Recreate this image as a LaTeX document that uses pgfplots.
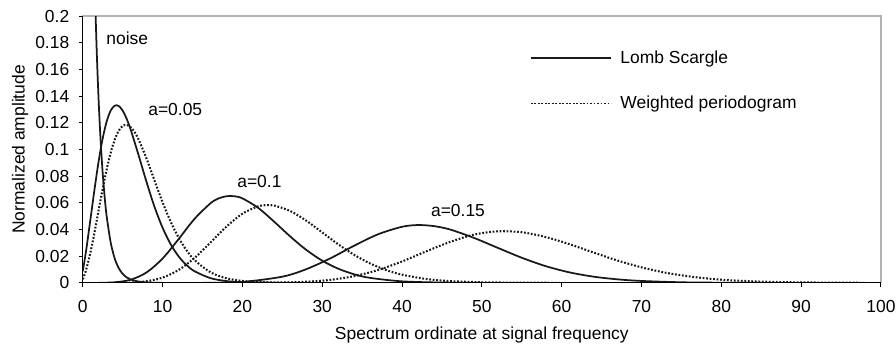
\documentclass[border=0pt]{standalone}
\usepackage{pgfplots}
\pgfplotsset{compat=1.18}
\usepackage{fontspec}
\setmainfont{Liberation Sans}
\newcommand{\chartfont}{\fontsize{11}{13}\selectfont}

\begin{document}
\begin{tikzpicture}[font=\chartfont]
\begin{axis}[
  name=ax,
  width=503.5pt, height=168.3pt, scale only axis,
  xmin=0, xmax=100, ymin=0, ymax=0.2,
  xtick={0,10,20,30,40,50,60,70,80,90,100},
  ytick={0,0.02,0.04,0.06,0.08,0.1,0.12,0.14,0.16,0.18,0.2},
  scaled y ticks=false,
  /pgf/number format/assume math mode=true,
  tick label style={font=\chartfont},
  label style={font=\chartfont},
  yticklabel style={/pgf/number format/fixed, /pgf/number format/precision=2, xshift=-2.5pt},
  xticklabel style={yshift=-5pt},
  tick pos=left, tick align=outside, major tick length=2.5pt,
  axis line style={gray!60, line width=0.8pt},
  tick style={black, line width=0.6pt},
  xlabel={Spectrum ordinate at signal frequency},
  ylabel={Normalized amplitude},
  xlabel style={at={(axis description cs:0.5,-0.196)}, anchor=center},
  ylabel style={at={(axis description cs:-0.0786,0.5)}, anchor=center},
  ls/.style={black!90, line width=1.1pt, smooth, no markers},
  wp/.style={ls, line width=1.3pt, dash pattern=on 1.1pt off 1.1pt},
  legend style={draw=none, fill=none, at={(axis cs:56.03,0.1516)}, anchor=west,
    inner sep=0pt, row sep=15pt, font=\chartfont},
  /tikz/every odd column/.append style={column sep=3.5pt},
  legend image code/.code={\draw[#1, line width=0.8pt] (0pt,0pt) -- (50.6pt,0pt);},
  legend cell align=left,
]
% Lomb Scargle, a=0.05
\addplot[ls] coordinates {
  (0,0.0087) (0.25,0.0175) (0.5,0.0274) (1,0.0492) (1.5,0.0712) (2,0.0914)
  (2.5,0.1083) (3,0.1210) (3.5,0.1291) (4,0.1328) (4.5,0.1326) (5,0.1291)
  (5.5,0.1230) (6,0.1149) (7,0.0956) (8,0.0754) (9,0.0568) (10,0.0413)
  (11,0.0291) (12,0.0199) (13,0.0133) (14,0.0087) (16,0.0035) (18,0.0013)
  (20,0.0005) (25,0.0000)
};
\addlegendentry{Lomb Scargle}
% Weighted periodogram, a=0.05
\addplot[wp] coordinates {
  (0,0.0027) (0.25,0.0065) (0.5,0.0114) (1,0.0237) (1.5,0.0386) (2,0.0547)
  (2.5,0.0705) (3,0.0851) (3.5,0.0975) (4,0.1072) (4.5,0.1139) (5,0.1176)
  (5.5,0.1184) (6,0.1167) (6.5,0.1129) (7,0.1074) (8,0.0930) (9,0.0765)
  (10,0.0604) (11,0.0460) (12,0.0340) (13,0.0244) (14,0.0171) (16,0.0079)
  (18,0.0034) (20,0.0014) (22,0.0005) (25,0.0001) (30,0)
};
\addlegendentry{Weighted periodogram}
% noise
\addplot[ls, forget plot] coordinates {
  (1.5,0.2231) (1.75,0.1738) (2,0.1353) (2.25,0.1054) (2.5,0.0821)
  (2.75,0.0639) (3,0.0498) (3.5,0.0302) (4,0.0183) (4.5,0.0111) (5,0.0067)
  (5.5,0.0041) (6,0.0025) (7,0.0009) (8,0.0003) (9,0.0001) (10,0)
};
% Lomb Scargle, a=0.1
\addplot[ls, forget plot] coordinates {
  (2,0) (4,0.0004) (6,0.0023) (8,0.0078) (10,0.0182) (12,0.0327) (14,0.0479)
  (16,0.0596) (17,0.0632) (18,0.0649) (19,0.0649) (20,0.0633) (22,0.0561)
  (24,0.0457) (26,0.0347) (28,0.0247) (30,0.0166) (32,0.0106) (34,0.0064)
  (36,0.0037) (40,0.0011) (45,0.0002) (50,0)
};
% Weighted periodogram, a=0.1
\addplot[wp, forget plot] coordinates {
  (4,0) (6,0.0002) (8,0.0012) (10,0.0039) (12,0.0096) (14,0.0186) (16,0.0302)
  (18,0.0421) (20,0.0518) (22,0.0574) (23,0.0582) (24,0.0579) (26,0.0538)
  (28,0.0466) (30,0.0378) (32,0.0289) (34,0.0210) (36,0.0145) (38,0.0096)
  (40,0.0061) (43,0.0029) (46,0.0013) (50,0.0004) (55,0.0001) (60,0)
};
% Lomb Scargle, a=0.15
\addplot[ls, forget plot] coordinates {
  (15,0) (20,0.0007) (25,0.0046) (28,0.0102) (31,0.0183) (34,0.0278)
  (37,0.0364) (40,0.0420) (42,0.0433) (44,0.0425) (46,0.0400) (49,0.0337)
  (52,0.0262) (55,0.0188) (58,0.0125) (61,0.0078) (64,0.0046) (67,0.0026)
  (70,0.0014) (75,0.0004) (80,0.0001) (85,0)
};
% Weighted periodogram, a=0.15
\addplot[wp, forget plot] coordinates {
  (20,0) (25,0.0002) (28,0.0008) (31,0.0022) (34,0.0050) (37,0.0096)
  (40,0.0160) (43,0.0235) (46,0.0306) (49,0.0361) (52,0.0386) (55,0.0379)
  (58,0.0343) (61,0.0289) (64,0.0227) (67,0.0167) (70,0.0116) (73,0.0076)
  (76,0.0048) (80,0.0023) (85,0.0009) (90,0.0003) (98,0)
};
\node[anchor=west, inner sep=0pt] at (axis cs:2.92,0.1835) {noise};
\node[anchor=west, inner sep=0pt] at (axis cs:8.18,0.130) {a=0.05};
\node[anchor=west, inner sep=0pt] at (axis cs:19.33,0.0763) {a=0.1};
\node[anchor=west, inner sep=0pt] at (axis cs:43.6,0.0545) {a=0.15};
\end{axis}
\draw[black, line width=0.8pt] (ax.north west) -- (ax.south west) -- (ax.south east);
\pgfresetboundingbox
\path[use as bounding box] ([xshift=-52.2pt,yshift=-40.6pt]ax.south west)
  rectangle ([xshift=9.5pt,yshift=10.1pt]ax.north east);
\end{tikzpicture}
\end{document}
